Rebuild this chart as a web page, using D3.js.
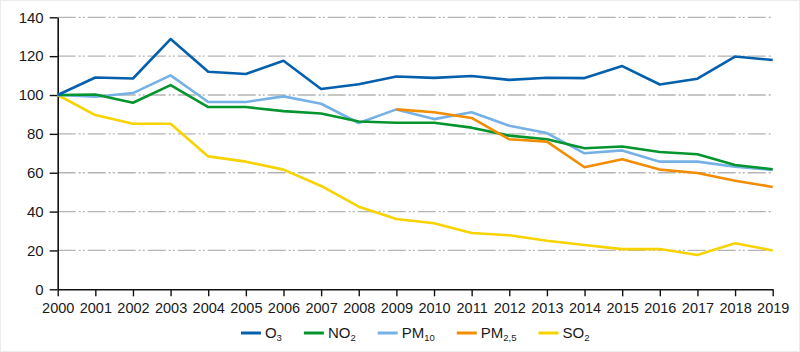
<!DOCTYPE html>
<html><head><meta charset="utf-8">
<script src="https://cdn.jsdelivr.net/npm/d3@7/dist/d3.min.js"></script>
<style>
html,body{margin:0;padding:0;background:#fff;}
svg{display:block;}
text{font-family:"Liberation Sans",Arial,sans-serif;fill:#1a1a1a;}
</style></head>
<body>
<svg id="chart" width="800" height="352"></svg>
<script>
const years = [2000,2001,2002,2003,2004,2005,2006,2007,2008,2009,2010,2011,2012,2013,2014,2015,2016,2017,2018,2019];
const yTicks = [0,20,40,60,80,100,120,140];
const o3   = [100,109,108.5,128.8,112,110.8,117.6,103.1,105.5,109.5,108.8,109.8,107.8,108.9,108.7,114.9,105.4,108.4,119.8,118];
const no2  = [100,100.3,96,105.1,93.8,93.8,91.7,90.5,86.4,85.7,85.7,83.2,79.1,77.2,72.6,73.5,70.7,69.5,64,61.8];
const pm10 = [100,99.1,101,110.1,96.4,96.4,99.3,95.5,85.6,92.6,87.6,91.1,84.2,80.4,70,71.5,65.7,65.7,63.1,61.4];
const pm25 = [null,null,null,null,null,null,null,null,null,92.6,91.1,88.2,77.2,76,62.8,66.9,61.6,59.9,55.9,52.7];
const so2  = [100,89.7,85.2,85.2,68.4,65.7,61.6,53.2,42.5,36.2,34,29,27.8,25,22.8,20.7,20.7,17.7,23.7,20];

const seriesNames = ["O3","NO2","PM10","PM2,5","SO2"];
const seriesLabels = [["O","3"],["NO","2"],["PM","10"],["PM","2,5"],["SO","2"]];
const seriesColors = ["#0460ad","#05952f","#76b1e6","#f28c00","#f7d300"];
const seriesData = [o3,no2,pm10,pm25,so2];
const drawOrder = [4,2,1,3,0];

const svg = d3.select("#chart");
svg.append("rect").attr("x",0.5).attr("y",0.5).attr("width",799).attr("height",351)
  .attr("fill","#fff").attr("stroke","#ececec");

const x = d3.scaleLinear().domain([2000,2019]).range([57.7,772.7]);
const y = d3.scaleLinear().domain([0,140]).range([289.3,17.3]);

// grid
svg.append("g").selectAll("line").data(yTicks.filter(d=>d>0)).join("line")
  .attr("x1",x(2000)).attr("x2",x(2019))
  .attr("y1",d=>y(d)).attr("y2",d=>y(d))
  .attr("stroke","#b4b4b4").attr("stroke-width",1.3)
  .attr("stroke-dasharray","18,3,2,2,2,3");

// y axis
const yAxis = svg.append("g").attr("transform",`translate(${x(2000)},0)`)
  .call(d3.axisLeft(y).tickValues(yTicks).tickSize(8).tickPadding(6).tickSizeOuter(0));
yAxis.select(".domain").attr("stroke","#111").attr("stroke-width",1.6);
yAxis.selectAll(".tick line").attr("stroke","#111").attr("stroke-width",1.4);
yAxis.selectAll("text").attr("font-size","15px").attr("font-family","Liberation Sans, Arial, sans-serif").attr("fill","#1a1a1a");

// x axis
const xAxis = svg.append("g").attr("transform",`translate(0,${y(0)})`)
  .call(d3.axisBottom(x).tickValues(years).tickFormat(d3.format("d")).tickSize(7).tickPadding(6).tickSizeOuter(0));
xAxis.select(".domain").attr("stroke","#111").attr("stroke-width",1.6);
xAxis.selectAll(".tick line").attr("stroke","#111").attr("stroke-width",1.4);
xAxis.selectAll("text").attr("font-size","14.5px").attr("font-family","Liberation Sans, Arial, sans-serif").attr("fill","#1a1a1a");

// lines
const line = d3.line().defined(d=>d.v!=null).x(d=>x(d.yr)).y(d=>y(d.v));
drawOrder.forEach(i=>{
  const pts = years.map((yr,k)=>({yr, v: seriesData[i][k]}));
  svg.append("path").datum(pts).attr("d",line)
    .attr("fill","none").attr("stroke",seriesColors[i]).attr("stroke-width",2.6)
    .attr("stroke-linejoin","round");
});

// legend
const leg = svg.append("g");
const legY = 333;
let cx = 0;
const items = [];
seriesNames.forEach((n,i)=>{
  const g = leg.append("g");
  g.append("line").attr("x1",0).attr("x2",20).attr("y1",0).attr("y2",0)
    .attr("stroke",seriesColors[i]).attr("stroke-width",3);
  const t = g.append("text").attr("x",24).attr("y",5).attr("font-size","15px");
  t.append("tspan").text(seriesLabels[i][0]);
  t.append("tspan").attr("font-size","9.5px").attr("dy",3).text(seriesLabels[i][1]);
  const w = 24 + t.node().getComputedTextLength();
  items.push({g,w});
});
const gap = 22;
const total = d3.sum(items,d=>d.w) + gap*(items.length-1);
cx = (x(2000)+x(2019))/2 - total/2;
items.forEach(it=>{ it.g.attr("transform",`translate(${cx},${legY})`); cx += it.w + gap; });
</script>
</body></html>
